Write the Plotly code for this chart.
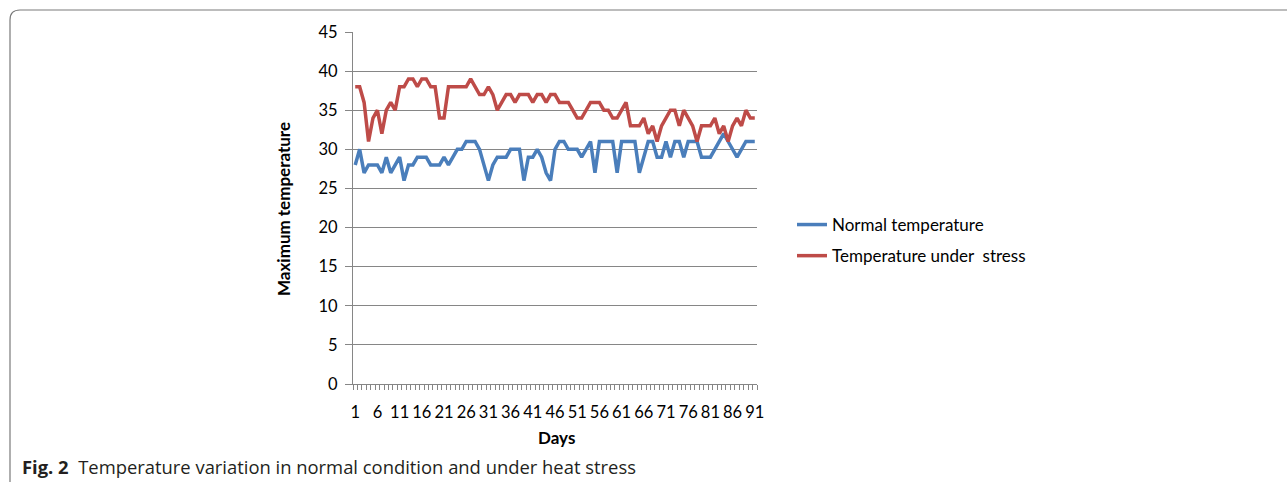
import plotly.graph_objects as go

# Daily maximum temperature (°C), days 1-91
days = list(range(1, 92))
normal_temp = [
    28, 30, 27, 28, 28, 28, 27, 29, 27, 28, 29, 26, 28, 28, 29,
    29, 29, 28, 28, 28, 29, 28, 29, 30, 30, 31, 31, 31, 30, 28,
    26, 28, 29, 29, 29, 30, 30, 30, 26, 29, 29, 30, 29, 27, 26,
    30, 31, 31, 30, 30, 30, 29, 30, 31, 27, 31, 31, 31, 31, 27,
    31, 31, 31, 31, 27, 29, 31, 31, 29, 29, 31, 29, 31, 31, 29,
    31, 31, 31, 29, 29, 29, 30, 31, 32, 31, 30, 29, 30, 31, 31, 31,
]
stress_temp = [
    38, 38, 36, 31, 34, 35, 32, 35, 36, 35, 38, 38, 39, 39, 38,
    39, 39, 38, 38, 34, 34, 38, 38, 38, 38, 38, 39, 38, 37, 37,
    38, 37, 35, 36, 37, 37, 36, 37, 37, 37, 36, 37, 37, 36, 37,
    37, 36, 36, 36, 35, 34, 34, 35, 36, 36, 36, 35, 35, 34, 34,
    35, 36, 33, 33, 33, 34, 32, 33, 31, 33, 34, 35, 35, 33, 35,
    34, 33, 31, 33, 33, 33, 34, 32, 33, 31, 33, 34, 33, 35, 34, 34,
]
y_tick_vals = list(range(0, 50, 5))
x_label_days = list(range(1, 92, 5))

series_names = ["Normal temperature", "Temperature under  stress"]
series_colors = ["#4A7EBB", "#BE4B48"]

W, H = 1287, 482
PLOT_L, PLOT_R, PLOT_T, PLOT_B = 353, 757, 32, 384
GRID = "#868686"
TICK_FONT = dict(family="Lato", size=16.5, color="#000000")
TITLE_FONT = dict(family="Lato", size=17, color="#000000", weight="bold")


def paper_x(x):
    return (x - PLOT_L) / (PLOT_R - PLOT_L)


def paper_y(y):
    return (PLOT_B - y) / (PLOT_B - PLOT_T)


fig = go.Figure()
for name, values, color in zip(series_names, [normal_temp, stress_temp], series_colors):
    fig.add_trace(go.Scatter(
        x=days, y=values, mode="lines", name=name, legendgroup=name,
        line=dict(color=color, width=3.5),
    ))

# Rounded page frame along the left and top edges
frame = (f"M {paper_x(10)},{paper_y(482)} L {paper_x(10)},{paper_y(20)} "
         f"Q {paper_x(10)},{paper_y(10)} {paper_x(20)},{paper_y(10)} "
         f"L {paper_x(1287)},{paper_y(10)}")
fig.add_shape(type="path", path=frame, xref="paper", yref="paper",
              line=dict(color="#7a7a7a", width=1.2))

fig.add_annotation(
    text="Maximum temperature", textangle=-90, showarrow=False,
    xref="paper", yref="paper", x=paper_x(283), y=paper_y(209),
    xanchor="center", yanchor="middle", font=TITLE_FONT,
)
fig.add_annotation(
    text="Days", showarrow=False,
    xref="paper", yref="paper", x=paper_x(556), y=paper_y(437),
    xanchor="center", yanchor="middle", font=TITLE_FONT,
)
fig.add_annotation(
    text="<b>Fig. 2</b>  Temperature variation in normal condition and under heat stress",
    showarrow=False, xref="paper", yref="paper",
    x=paper_x(20), y=paper_y(466), xanchor="left", yanchor="middle",
    font=dict(family="Open Sans", size=18.4, color="#231f20"),
)

fig.update_layout(
    width=W, height=H,
    margin=dict(l=PLOT_L, r=W - PLOT_R, t=PLOT_T, b=H - PLOT_B, pad=0),
    paper_bgcolor="#ffffff", plot_bgcolor="#ffffff",
    showlegend=True,
    legend=dict(
        x=paper_x(792), y=paper_y(207), xanchor="left", yanchor="top",
        font=dict(family="Lato", size=17, color="#000000"),
        tracegroupgap=6, bgcolor="rgba(0,0,0,0)",
    ),
    xaxis=dict(
        range=[0.5, 91.5], tickmode="array", tickvals=x_label_days,
        ticktext=[str(d) for d in x_label_days],
        ticks="outside", ticklen=5, tickcolor="rgba(0,0,0,0)",
        ticklabelstandoff=8,
        minor=dict(tickmode="array", tickvals=[d + 0.5 for d in [0] + days],
                   ticks="outside", ticklen=5, tickcolor=GRID, tickwidth=1),
        showgrid=False, zeroline=False,
        showline=True, linecolor=GRID, linewidth=1,
        tickfont=TICK_FONT,
    ),
    yaxis=dict(
        range=[0, 45], tickmode="array", tickvals=y_tick_vals,
        ticks="outside", ticklen=7, tickcolor=GRID,
        showgrid=True, gridcolor=GRID, gridwidth=1, zeroline=False,
        showline=True, linecolor=GRID, linewidth=1,
        tickfont=TICK_FONT, ticklabelstandoff=4,
    ),
)

fig.write_html("out.html")
